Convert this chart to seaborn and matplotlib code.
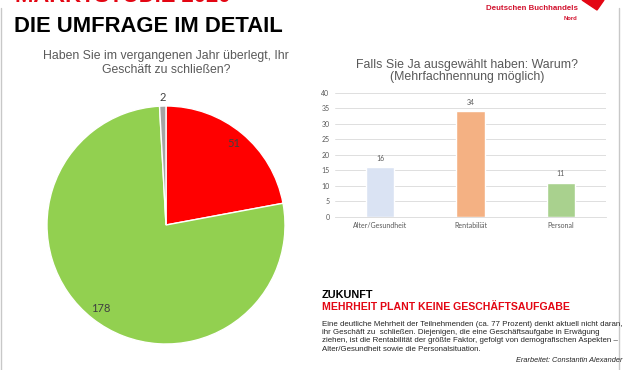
import numpy as np
import pandas as pd
import matplotlib
matplotlib.use("Agg")
import matplotlib.pyplot as plt
import seaborn as sns
from matplotlib.lines import Line2D
from matplotlib.patches import Polygon

# pie: "Haben Sie im vergangenen Jahr überlegt, Ihr Geschäft zu schließen?"
pie_labels = ["Ja", "Nein", "Keine Angabe"]
pie_values = [51, 178, 2]
pie_colors = ["#FF0000", "#92D050", "#A5A5A5"]

# bars: "Falls Sie Ja ausgewählt haben: Warum?"
bar_cats = ["Alter/Gesundheit", "Rentabiliät", "Personal"]
bar_values = [16, 34, 11]
bar_colors = ["#DAE3F3", "#F4B183", "#A9D18E"]

body_lines = [
    "Eine deutliche Mehrheit der Teilnehmenden (ca. 77 Prozent) denkt aktuell nicht daran,",
    "ihr Geschäft zu  schließen. Diejenigen, die eine Geschäftsaufgabe in Erwägung",
    "ziehen, ist die Rentabilität der größte Faktor, gefolgt von demografischen Aspekten –",
    "Alter/Gesundheit sowie die Personalsituation.",
]

sns.set_theme(style="white")
plt.rcParams['font.family'] = ['Liberation Sans', 'DejaVu Sans']
CALI = ['Lato', 'DejaVu Sans']

W, H = 630, 370
fig = plt.figure(figsize=(6.3, 3.7), dpi=100)
fig.patch.set_facecolor("white")

def fx(px):
    return px / W

def fy(py):
    return 1 - py / H

# slide frame
for xpx in (1, 619):
    fig.add_artist(Line2D([fx(xpx), fx(xpx)], [0, fy(8)], color="#C8C8C8", lw=1.0))

# headers (the red line is cut by the top edge, as in the source slide)
fig.text(fx(15), fy(1.8), "MARKTSTUDIE 2020", color="#E30613", fontsize=15.8,
         fontweight="bold", va="baseline", ha="left")
fig.text(fx(14), fy(32), "DIE UMFRAGE IM DETAIL", color="black", fontsize=15.8,
         fontweight="bold", va="baseline", ha="left")
fig.text(fx(578), fy(9.5), "Deutschen Buchhandels", color="#D2122E", fontsize=5.7,
         fontweight="bold", va="baseline", ha="right")
fig.text(fx(577), fy(19.5), "Nord", color="#D2122E", fontsize=4.2,
         fontweight="bold", va="baseline", ha="right")
fig.add_artist(Polygon([[fx(582), fy(0)], [fx(604), fy(0)], [fx(597), fy(10)]],
                       closed=True, color="#E30613", transform=fig.transFigure))

# ---- pie chart ----
cx, cy, r = 166, 225, 119
ax1 = fig.add_axes([fx(cx - r), fy(cy + r), 2 * r / W, 2 * r / H])
wedges, _ = ax1.pie(pie_values, colors=pie_colors, startangle=90, counterclock=False,
                    wedgeprops=dict(edgecolor="white", linewidth=1.0))
ax1.set_xlim(-1, 1)
ax1.set_ylim(-1, 1)
ax1.set_aspect("equal")
total = sum(pie_values)
for w, v in zip(wedges, pie_values):
    ang = np.deg2rad((w.theta1 + w.theta2) / 2)
    d = 0.89 if v / total > 0.05 else 1.075
    ax1.text(d * np.cos(ang), d * np.sin(ang), str(v), ha="center", va="center",
             fontsize=8, color="#404040", family=CALI)
fig.text(fx(166), fy(63), "Haben Sie im vergangenen Jahr überlegt, Ihr\nGeschäft zu schließen?",
         ha="center", va="center", fontsize=8.8, color="#595959", linespacing=1.33)

# ---- bar chart ----
ax2 = fig.add_axes([fx(335), fy(216.7), fx(606) - fx(335), (216.7 - 92.7) / H])
df = pd.DataFrame({"cat": bar_cats, "val": bar_values})
sns.barplot(data=df, x="cat", y="val", hue="cat", palette=bar_colors, width=0.31,
            legend=False, ax=ax2, saturation=1)
ax2.set_ylim(0, 40)
ax2.set_yticks(range(0, 41, 5))
ax2.yaxis.grid(True, color="#D9D9D9", lw=0.6)
ax2.set_axisbelow(True)
for s in ["top", "right", "left"]:
    ax2.spines[s].set_visible(False)
ax2.spines["bottom"].set_color("#D9D9D9")
ax2.spines["bottom"].set_linewidth(0.6)
ax2.set_xlabel("")
ax2.set_ylabel("")
ax2.tick_params(axis="both", length=0, labelsize=5, colors="#595959", pad=4)
for lab in ax2.get_xticklabels() + ax2.get_yticklabels():
    lab.set_family(CALI)
for cont in ax2.containers:
    ax2.bar_label(cont, fontsize=5, color="#595959", padding=4, family=CALI)
fig.text(fx(467), fy(71), "Falls Sie Ja ausgewählt haben: Warum?\n(Mehrfachnennung möglich)",
         ha="center", va="center", fontsize=8.9, color="#595959", linespacing=1.05)

# ---- text block ----
fig.text(fx(322), fy(298.5), "ZUKUNFT", fontsize=7.8, fontweight="bold", color="black",
         va="baseline")
fig.text(fx(322), fy(310.5), "MEHRHEIT PLANT KEINE GESCHÄFTSAUFGABE", fontsize=7.6,
         fontweight="bold", color="#E30613", va="baseline")
for i, line in enumerate(body_lines):
    fig.text(fx(322), fy(325.5 + i * 8.35), line, fontsize=5.65, color="#262626",
             va="baseline")
fig.text(fx(622), fy(361.5), "Erarbeitet: Constantin Alexander", fontsize=5.3,
         style="italic", color="#262626", ha="right", va="baseline")

fig.savefig("out.png", dpi=100)
